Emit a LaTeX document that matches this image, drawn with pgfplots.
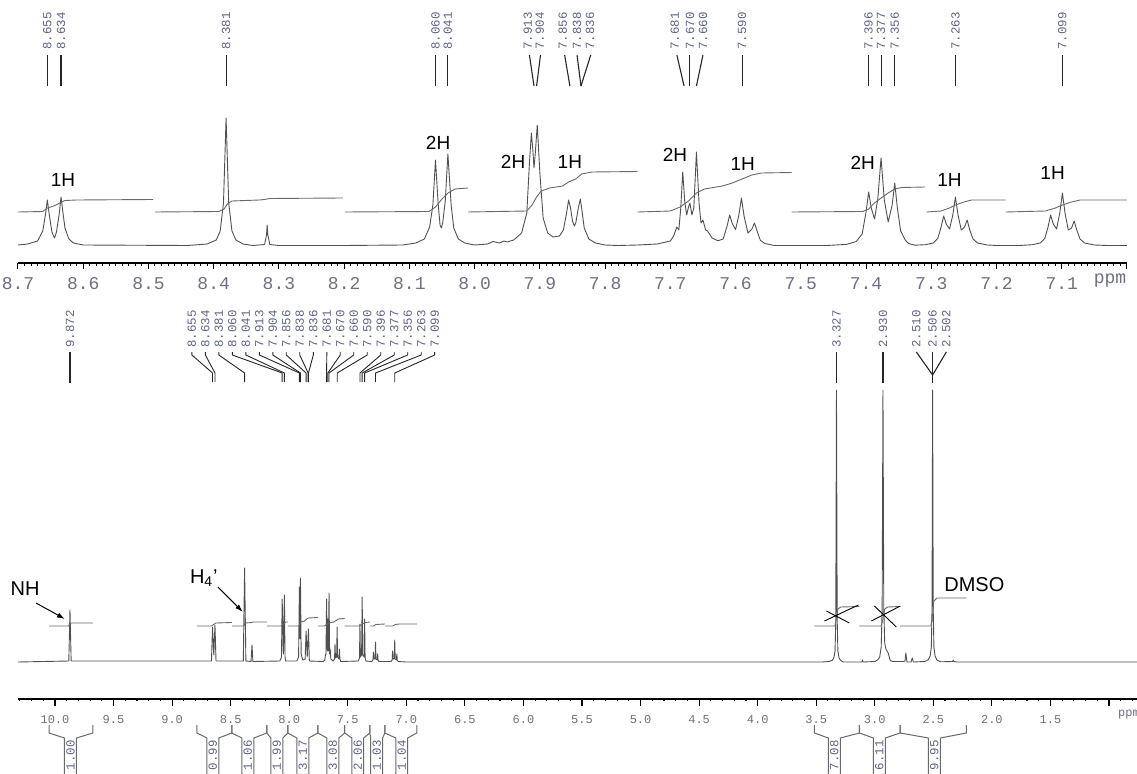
\documentclass[border=0pt]{standalone}
\usepackage{pgfplots}
\pgfplotsset{compat=1.18}
\usetikzlibrary{arrows.meta}
\usepackage{fontspec}
\setmainfont{Liberation Sans}
\newfontfamily\mono{Liberation Mono}
\definecolor{spec}{RGB}{80,80,80}
\definecolor{integ}{RGB}{105,105,105}
\definecolor{labc}{RGB}{95,100,135}
\definecolor{tickc}{RGB}{110,112,130}
\tikzset{
 labl/.style={black!85, line width=0.55pt},
 labt/.style={rotate=90, font=\mono\fontsize{6.2}{7}\selectfont, text=labc, inner sep=0pt},
 hl/.style={font=\fontsize{9.5}{10}\selectfont, inner sep=0pt},
 brk/.style={integ, line width=0.5pt},
}
% top label: text x, line top x, line bottom x, text
\newcommand{\tl}[4]{\draw[labl] (axis cs:#2,208) -- (axis cs:#3,177); \node[labt] at (axis cs:#1,232) {#4};}
% bottom fan label: slot x, peak x, text
\newcommand{\bl}[3]{\draw[labl, line width=0.45pt] (axis cs:#1,347) -- (axis cs:#1,344) -- (axis cs:#2,326) -- (axis cs:#2,317); \node[labt] at (axis cs:#1,370) {#3};}
% bracket: left boundary, right boundary, left vertical, right vertical, label x, text
\newcommand{\br}[6]{\draw[brk] (axis cs:#1,-26) -- (axis cs:#1,-34) -- (axis cs:#3,-39) -- (axis cs:#3,-76); \draw[brk] (axis cs:#2,-26) -- (axis cs:#2,-34) -- (axis cs:#4,-39) -- (axis cs:#4,-76); \node[labt, anchor=east] at (axis cs:#5,-41) {#6};}
\begin{document}
\begin{tikzpicture}
\useasboundingbox (0,0) rectangle (568.5pt,386.5pt);
%%%%%%%%%%%%%%%% TOP (expanded) %%%%%%%%%%%%%%%%
\begin{axis}[
 at={(9pt,255pt)}, anchor=south west,
 scale only axis, width=554.5pt, height=131.5pt,
 xmin=7.0, xmax=8.7, ymin=0, ymax=263, x dir=reverse,
 axis x line*=bottom, hide y axis, clip=false,
 xtick={7.0,7.1,7.2,7.3,7.4,7.5,7.6,7.7,7.8,7.9,8.0,8.1,8.2,8.3,8.4,8.5,8.6,8.7},
 xticklabels={,7.1,7.2,7.3,7.4,7.5,7.6,7.7,7.8,7.9,8.0,8.1,8.2,8.3,8.4,8.5,8.6,8.7},
 minor xtick={7.0,7.01,...,8.7},
 tick align=outside, major tick length=3pt, minor tick length=1.4pt,
 every tick/.style={black, line width=0.5pt},
 axis line style={black, line width=0.6pt},
 x tick label style={font=\mono\fontsize{9}{10}\selectfont, text=tickc, anchor=base, yshift=-10.5pt},
]
\addplot[spec, line width=0.45pt, line join=round] coordinates {
(7.000,17.5)(7.030,17.5)(7.050,18)(7.065,20)(7.072,24)(7.077,33)(7.081,42)(7.085,35)(7.090,33)(7.095,50)(7.099,70)(7.103,50)(7.108,34)(7.113,39)(7.117,48)(7.121,36)(7.126,24.5)(7.133,20)(7.145,18.3)(7.165,17.5)
(7.200,17.5)(7.214,18)(7.229,20)(7.236,24)(7.241,33)(7.245,43)(7.249,36)(7.254,33)(7.259,48)(7.263,66)(7.267,48)(7.272,34)(7.277,39)(7.281,47)(7.285,36)(7.290,24.5)(7.297,20)(7.309,18.3)(7.325,17.8)
(7.335,19.5)(7.340,23)(7.347,32)(7.352,55)(7.356,80)(7.360,58)(7.366,41)(7.372,63)(7.377,105)(7.382,64)(7.387,44)(7.392,55)(7.396,71)(7.400,51)(7.406,29)(7.415,21.5)(7.430,18.6)(7.460,17.5)
(7.540,17.5)(7.555,19.4)(7.562,22.7)(7.567,31.9)(7.571,40)(7.575,33.9)(7.581,29.9)(7.587,47)(7.591,65)(7.595,47.7)(7.600,33.4)(7.605,39.4)(7.609,48)(7.613,37)(7.619,24)(7.627,22.2)(7.636,25)
(7.643,32)(7.646,33)(7.650,43)(7.653,40)(7.656,60)(7.660,111)(7.664,55)(7.667,48)(7.670,60)(7.6725,55)(7.675,48)(7.678,62)(7.681,91)(7.684,55)(7.687,33)(7.690,36)(7.695,27)(7.700,22)(7.720,19)(7.750,18)(7.780,17.5)
(7.800,18)(7.815,20)(7.825,24)(7.832,35)(7.836,55)(7.838,64)(7.841,55)(7.845,40)(7.847,37)(7.850,42)(7.853,55)(7.856,63)(7.859,50)(7.864,33)(7.870,27)(7.880,26)(7.888,30)(7.895,45)(7.900,90)(7.904,138)(7.907,110)(7.909,95)(7.911,115)(7.913,130)(7.916,100)(7.920,50)(7.928,30)(7.940,23)(7.950,21)(7.955,22)(7.962,20)(7.972,21.5)(7.980,19)
(8.000,18)(8.015,20)(8.025,24)(8.032,35)(8.036,58)(8.041,109)(8.045,62)(8.049,40)(8.051,35)(8.053,38)(8.056,60)(8.060,103)(8.064,58)(8.069,36)(8.077,24)(8.090,20)(8.110,18)(8.200,17.5)
(8.300,17.5)(8.314,18.5)(8.317,28)(8.318,38)(8.319,28)(8.322,18.5)(8.340,17.5)(8.355,19)(8.366,23)(8.372,32)(8.377,60)(8.381,145)(8.385,60)(8.390,32)(8.396,23)(8.410,19)(8.440,17.5)
(8.600,18)(8.615,20)(8.622,24)(8.628,35)(8.631,50)(8.634,66)(8.637,48)(8.641,31)(8.644,25)(8.648,31)(8.652,48)(8.655,63)(8.658,48)(8.662,32)(8.670,22)(8.685,19)(8.700,18)
};
% integral curves
\addplot[integ, line width=0.45pt] coordinates {(8.700,51)(8.662,51.5)(8.655,55)(8.645,57)(8.636,60)(8.628,62.5)(8.61,63)(8.493,63.5)};
\addplot[integ, line width=0.45pt] coordinates {(8.490,51)(8.392,51.5)(8.384,54)(8.379,59)(8.372,62)(8.33,63)(8.322,63.5)(8.314,64.5)(8.202,65)};
\addplot[integ, line width=0.45pt] coordinates {(8.199,51)(8.07,51.5)(8.060,56)(8.050,64)(8.041,70)(8.030,74)(8.010,75)};
\addplot[integ, line width=0.45pt] coordinates {(8.010,51)(7.920,52)(7.912,58)(7.905,66)(7.898,72)(7.885,75)(7.865,77)(7.856,81)(7.845,84)(7.836,89)(7.82,91)(7.750,91.5)};
\addplot[integ, line width=0.45pt] coordinates {(7.750,51)(7.700,52)(7.685,56)(7.672,62)(7.660,70)(7.648,74)(7.62,77)(7.605,80)(7.59,84)(7.575,88)(7.56,90)(7.514,90.5)};
\addplot[integ, line width=0.45pt] coordinates {(7.514,51)(7.405,51.5)(7.396,54)(7.387,60)(7.377,65)(7.366,70)(7.356,74)(7.345,75.5)(7.310,76)};
\addplot[integ, line width=0.45pt] coordinates {(7.307,51)(7.285,52)(7.272,55)(7.263,58)(7.250,61)(7.238,63)(7.186,63)};
\addplot[integ, line width=0.45pt] coordinates {(7.186,51)(7.125,52)(7.11,55)(7.099,58)(7.085,61)(7.072,63)(7.000,63)};
% peak labels
\tl{8.655}{8.655}{8.655}{8.655}
\tl{8.634}{8.634}{8.634}{8.634}
\tl{8.381}{8.381}{8.381}{8.381}
\tl{8.060}{8.060}{8.060}{8.060}
\tl{8.041}{8.041}{8.041}{8.041}
\tl{7.9185}{7.916}{7.909}{7.913}
\tl{7.900}{7.899}{7.905}{7.904}
\tl{7.865}{7.862}{7.854}{7.856}
\tl{7.843}{7.843}{7.837}{7.838}
\tl{7.823}{7.822}{7.837}{7.836}
\tl{7.693}{7.690}{7.679}{7.681}
\tl{7.670}{7.670}{7.670}{7.670}
\tl{7.650}{7.650}{7.660}{7.660}
\tl{7.590}{7.590}{7.590}{7.590}
\tl{7.396}{7.396}{7.396}{7.396}
\tl{7.377}{7.377}{7.377}{7.377}
\tl{7.356}{7.356}{7.356}{7.356}
\tl{7.263}{7.263}{7.263}{7.263}
\tl{7.099}{7.099}{7.099}{7.099}
% multiplicity labels
\node[hl] at (axis cs:8.631,83) {1H};
\node[hl] at (axis cs:8.056,120) {2H};
\node[hl] at (axis cs:7.941,101) {2H};
\node[hl] at (axis cs:7.854,101) {1H};
\node[hl] at (axis cs:7.693,108) {2H};
\node[hl] at (axis cs:7.589,99) {1H};
\node[hl] at (axis cs:7.405,100) {2H};
\node[hl] at (axis cs:7.272,83) {1H};
\node[hl] at (axis cs:7.114,90) {1H};
\node[font=\mono\fontsize{9}{10}\selectfont, text=tickc, anchor=base] at (axis cs:7.026,-21) {ppm};
\end{axis}
%%%%%%%%%%%%%%%% BOTTOM (full) %%%%%%%%%%%%%%%%
\begin{axis}[
 at={(9pt,37pt)}, anchor=south west,
 scale only axis, width=559.5pt, height=199.5pt,
 xmin=0.761, xmax=10.316, ymin=0, ymax=399, x dir=reverse,
 axis x line*=bottom, hide y axis, clip=false,
 xtick={1.0,1.5,2.0,2.5,3.0,3.5,4.0,4.5,5.0,5.5,6.0,6.5,7.0,7.5,8.0,8.5,9.0,9.5,10.0},
 xticklabels={,1.5,2.0,2.5,3.0,3.5,4.0,4.5,5.0,5.5,6.0,6.5,7.0,7.5,8.0,8.5,9.0,9.5,10.0},
 minor xtick={0.8,0.9,...,10.3},
 tick align=outside, major tick length=3.5pt, minor tick length=1.1pt,
 every tick/.style={black, line width=0.55pt},
 axis line style={black, line width=0.65pt},
 x tick label style={font=\mono\fontsize{6}{7}\selectfont, text=tickc, anchor=base, yshift=-8.5pt},
]
\addplot[spec, line width=0.45pt, line join=round] coordinates {
(0.761,37)(1.200,37)(2.300,37)(2.325,37.5)(2.330,39)(2.335,37.5)(2.440,37.2)(2.470,39)(2.485,43)(2.495,52)(2.501,90)(2.506,309)(2.511,90)(2.517,52)(2.527,43)(2.545,39)(2.575,37.5)
(2.670,37)(2.680,41)(2.690,37)(2.725,37)(2.735,46)(2.742,38)(2.760,37.5)(2.850,37.5)(2.870,39)(2.885,46)(2.895,48)(2.905,50)(2.915,56)(2.923,90)(2.930,309)(2.937,90)(2.945,52)(2.958,42)(2.975,39)(3.000,37.5)
(3.100,37)(3.105,39)(3.110,37)(3.270,37)(3.290,38.5)(3.305,41)(3.315,48)(3.321,80)(3.327,309)(3.333,80)(3.339,48)(3.350,41)(3.365,38.5)(3.390,37.5)(3.450,37)
(7.000,37)(7.070,37.5)(7.077,39)(7.081,45)(7.085,39)(7.095,40)(7.099,59)(7.103,40)(7.113,40)(7.117,48)(7.121,39)(7.130,37.5)
(7.235,37.5)(7.241,39)(7.245,45)(7.249,39)(7.259,40)(7.263,57)(7.267,40)(7.277,40)(7.281,47)(7.285,39)(7.295,37.5)
(7.345,38)(7.352,41)(7.356,80)(7.360,42)(7.372,44)(7.377,102)(7.382,44)(7.392,42)(7.396,75)(7.400,41)(7.410,38)
(7.560,37.5)(7.567,40)(7.571,50)(7.575,40)(7.587,42)(7.591,72)(7.595,42)(7.605,41)(7.609,55)(7.613,40)(7.625,38)
(7.645,40)(7.650,50)(7.655,45)(7.660,106)(7.665,48)(7.670,80)(7.675,48)(7.681,100)(7.686,44)(7.690,45)(7.696,39)(7.710,37.5)
(7.828,38)(7.836,70)(7.846,42)(7.856,68)(7.864,40)(7.885,39)(7.898,45)(7.904,121)(7.908,60)(7.913,112)(7.920,42)(7.935,38)
(8.030,38)(8.036,42)(8.041,104)(8.050,45)(8.060,100)(8.066,42)(8.080,38)
(8.310,37.5)(8.318,54)(8.326,37.5)(8.370,38)(8.381,131)(8.392,38)
(8.625,38)(8.634,74)(8.644,44)(8.655,72)(8.664,38)
(9.862,38)(9.872,89)(9.882,38)(10.316,37)
};
% integral curves
\addplot[integ, line width=0.45pt] coordinates {(10.051,73)(9.885,73)(9.870,75.5)(9.860,76)(9.676,76)};
\addplot[integ, line width=0.45pt] coordinates {(8.788,73)(8.665,73)(8.645,74.5)(8.625,76)(8.490,76.5)};
\addplot[integ, line width=0.45pt] coordinates {(8.490,73)(8.390,73)(8.375,76)(8.320,76.5)(8.310,77)(8.191,77)};
\addplot[integ, line width=0.45pt] coordinates {(8.191,73)(8.070,73)(8.050,75)(8.030,77)(8.012,77)};
\addplot[integ, line width=0.45pt] coordinates {(8.012,73)(7.920,73)(7.900,77)(7.870,78)(7.840,81)(7.756,81.5)};
\addplot[integ, line width=0.45pt] coordinates {(7.756,73)(7.700,73)(7.660,76)(7.620,77)(7.580,80)(7.526,80.5)};
\addplot[integ, line width=0.45pt] coordinates {(7.526,73)(7.400,73)(7.370,75.5)(7.350,76.5)(7.312,77)};
\addplot[integ, line width=0.45pt] coordinates {(7.312,73)(7.280,73)(7.260,74.5)(7.184,75)};
\addplot[integ, line width=0.45pt] coordinates {(7.184,73)(7.115,73)(7.095,74.5)(7.060,75)(6.911,75)};
\addplot[integ, line width=0.45pt] coordinates {(3.515,73)(3.340,73)(3.327,80)(3.315,90)(3.290,92)(3.131,92.5)};
\addplot[integ, line width=0.45pt] coordinates {(3.131,73)(2.945,73)(2.930,80)(2.915,90)(2.890,92)(2.784,92.5)};
\addplot[integ, line width=0.45pt] coordinates {(2.784,73)(2.520,73)(2.506,85)(2.495,98)(2.470,101)(2.218,101)};
% crosses
\draw[black, line width=0.45pt] (axis cs:3.430,78) -- (axis cs:3.140,94);
\draw[black, line width=0.45pt] (axis cs:3.413,88) -- (axis cs:3.217,76);
\draw[black, line width=0.45pt] (axis cs:3.029,78) -- (axis cs:2.782,93);
\draw[black, line width=0.45pt] (axis cs:3.003,93) -- (axis cs:2.816,72);
% peak labels
\draw[labl] (axis cs:9.872,347) -- (axis cs:9.872,316); \node[labt] at (axis cs:9.872,370) {9.872};
\bl{8.831}{8.655}{8.655}
\bl{8.716}{8.634}{8.634}
\bl{8.601}{8.381}{8.381}
\bl{8.486}{8.060}{8.060}
\bl{8.370}{8.041}{8.041}
\bl{8.255}{7.913}{7.913}
\bl{8.140}{7.904}{7.904}
\bl{8.025}{7.856}{7.856}
\bl{7.910}{7.838}{7.838}
\bl{7.794}{7.836}{7.836}
\bl{7.679}{7.681}{7.681}
\bl{7.564}{7.670}{7.670}
\bl{7.449}{7.660}{7.660}
\bl{7.334}{7.590}{7.590}
\bl{7.218}{7.396}{7.396}
\bl{7.103}{7.377}{7.377}
\bl{6.988}{7.356}{7.356}
\bl{6.873}{7.263}{7.263}
\bl{6.758}{7.099}{7.099}
\draw[labl] (axis cs:3.327,347) -- (axis cs:3.327,316); \node[labt] at (axis cs:3.327,370) {3.327};
\draw[labl] (axis cs:2.930,347) -- (axis cs:2.930,316); \node[labt] at (axis cs:2.930,370) {2.930};
\draw[labl] (axis cs:2.506,347) -- (axis cs:2.506,316); \node[labt] at (axis cs:2.506,370) {2.506};
\draw[labl] (axis cs:2.645,347) -- (axis cs:2.506,324); \node[labt] at (axis cs:2.645,370) {2.510};
\draw[labl] (axis cs:2.389,347) -- (axis cs:2.506,324); \node[labt] at (axis cs:2.389,370) {2.502};
% annotations
\node[font=\fontsize{10}{11}\selectfont, inner sep=0pt] at (axis cs:10.256,110) {NH};
\draw[-{Latex[length=4pt,width=2.6pt]}, line width=0.5pt] (axis cs:10.162,96) -- (axis cs:9.915,80);
\node[font=\fontsize{10}{11}\selectfont, inner sep=0pt] at (axis cs:8.729,121) {H\textsubscript{4}'};
\draw[-{Latex[length=4pt,width=2.6pt]}, line width=0.5pt] (axis cs:8.609,112) -- (axis cs:8.396,87);
\node[font=\fontsize{10}{11}\selectfont, inner sep=0pt] at (axis cs:2.150,114) {DMSO};
\node[font=\mono\fontsize{6}{7}\selectfont, text=tickc, anchor=base] at (axis cs:0.83,-17) {ppm};
% integration brackets
\br{10.051}{9.676}{9.919}{9.817}{9.868}{1.00}
\br{8.788}{8.490}{8.703}{8.601}{8.652}{0.99}
\br{8.490}{8.191}{8.404}{8.302}{8.353}{1.06}
\br{8.191}{8.012}{8.157}{8.055}{8.106}{1.99}
\br{8.012}{7.756}{7.935}{7.833}{7.884}{3.17}
\br{7.756}{7.526}{7.679}{7.577}{7.628}{3.08}
\br{7.526}{7.312}{7.466}{7.364}{7.415}{2.06}
\br{7.312}{7.184}{7.304}{7.202}{7.253}{1.03}
\br{7.184}{6.911}{7.090}{6.988}{7.039}{1.04}
\br{3.515}{3.131}{3.396}{3.294}{3.345}{7.08}
\br{3.131}{2.784}{3.012}{2.910}{2.961}{6.11}
\br{2.784}{2.218}{2.542}{2.440}{2.491}{9.95}
\end{axis}
\end{tikzpicture}
\end{document}
